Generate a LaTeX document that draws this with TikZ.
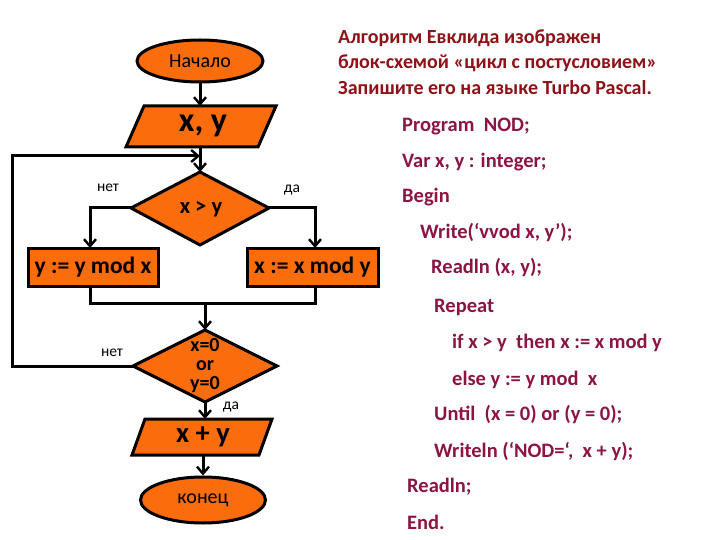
\documentclass[tikz,border=0pt]{standalone}
\usepackage{fontspec}
\setmainfont{Carlito}
\usetikzlibrary{arrows.meta,shapes.geometric}
\definecolor{orng}{RGB}{250,108,12}
\definecolor{ttl}{RGB}{140,18,24}
\definecolor{code}{RGB}{140,20,68}
\tikzset{
  blk/.style={draw=black,fill=orng,line width=3pt,line join=miter},
  ln/.style={draw=black,line width=3pt},
  arr/.style={ln,-{Straight Barb[length=7pt,width=12pt,line width=2.4pt]}},
  lbl/.style={font=\fontsize{15.5}{17}\selectfont,inner sep=0pt},
  ttltxt/.style={anchor=west,inner sep=0pt,text=ttl,font=\bfseries\fontsize{20}{22}\selectfont},
  codetxt/.style={anchor=west,inner sep=0pt,text=code,font=\bfseries\fontsize{20.5}{22}\selectfont},
}
\begin{document}
\begin{tikzpicture}[x=1pt,y=-1pt]
\useasboundingbox (0,0) rectangle (720,540);
% --- start
\node[blk,ellipse,minimum width=126pt,minimum height=42pt,inner sep=0pt,font=\fontsize{20}{22}\selectfont] (start) at (200,61) {Начало};
% --- input
\coordinate (p1tl) at (144,106); \coordinate (p1tr) at (276,106);
\coordinate (p1br) at (258,147); \coordinate (p1bl) at (126,147);
\draw[blk] (p1tl) -- (p1tr) -- (p1br) -- (p1bl) -- cycle;
\node[inner sep=0pt,font=\bfseries\fontsize{34}{36}\selectfont] (in1) at (203,126) {x, y};
\coordinate (in1t) at (200,106); \coordinate (in1b) at (200,147);
% --- diamond 1
\coordinate (d1t) at (200,172); \coordinate (d1r) at (269,208);
\coordinate (d1b) at (200,245); \coordinate (d1l) at (131,208);
\draw[blk] (d1t) -- (d1r) -- (d1b) -- (d1l) -- cycle;
\node[inner sep=0pt,font=\bfseries\fontsize{22.5}{24}\selectfont] (c1) at (201,209) {x > y};
% --- boxes
\node[blk,rectangle,minimum width=130pt,minimum height=38pt,inner sep=0pt,font=\bfseries\fontsize{23.5}{25}\selectfont] (bl) at (93,267) {y := y mod x};
\node[blk,rectangle,minimum width=131pt,minimum height=38pt,inner sep=0pt,font=\bfseries\fontsize{23.5}{25}\selectfont] (br) at (312.5,267) {x := x mod y};
\coordinate (blt) at (90,248); \coordinate (brt) at (315,248);
\coordinate (blb) at (90,286); \coordinate (brb) at (315,286);
\coordinate (mgl) at (90,303); \coordinate (mgr) at (315,303);
\coordinate (mgc) at (205,303);
% --- diamond 2
\coordinate (d2t) at (205,330); \coordinate (d2r) at (277,366);
\coordinate (d2b) at (205,402); \coordinate (d2l) at (133,366);
\draw[blk] (d2t) -- (d2r) -- (d2b) -- (d2l) -- cycle;
\node[inner sep=0pt,align=center,font=\bfseries\fontsize{20}{19}\selectfont] (c2) at (205,366) {x=0\\or\\y=0};
% --- output
\coordinate (p2tl) at (145,419); \coordinate (p2tr) at (272,419);
\coordinate (p2br) at (259,455); \coordinate (p2bl) at (132,455);
\draw[blk] (p2tl) -- (p2tr) -- (p2br) -- (p2bl) -- cycle;
\node[inner sep=0pt,font=\bfseries\fontsize{28.5}{30}\selectfont] (out) at (203,437) {x + y};
\coordinate (p2t) at (205,419); \coordinate (p2b) at (203,455);
% --- end
\node[blk,ellipse,minimum width=125pt,minimum height=46pt,inner sep=0pt,font=\fontsize{20}{22}\selectfont] (fin) at (203,500) {конец};
% --- connectors
\draw[arr] (start.south) -- (in1t);
\draw[arr] (in1b) -- (d1t);
\draw[arr] (d1l) -| (blt);
\draw[arr] (d1r) -| (brt);
\draw[ln] (blb) -- (mgl) -- (mgr) -- (brb);
\draw[arr] (mgc) -- (d2t);
\coordinate (lpa) at (12,366); \coordinate (lpb) at (12,156); \coordinate (lpc) at (200,156);
\draw[arr] (d2l) -- (lpa) -- (lpb) -- (lpc);
\draw[arr] (d2b) -- (p2t);
\draw[arr] (p2b) -- (fin.north);
% --- labels
\node[lbl] (l1) at (108,188) {нет};
\node[lbl] (l2) at (292,190) {да};
\node[lbl] (l3) at (112,353) {нет};
\node[lbl] (l4) at (231,407) {да};
% --- title
\node[ttltxt] (t1) at (338,38) {Алгоритм Евклида изображен};
\node[ttltxt] (t2) at (338,63) {блок-схемой «цикл с постусловием»};
\node[ttltxt] (t3) at (338,88) {Запишите его на языке Turbo Pascal.};
% --- code
\node[codetxt] (k1) at (402,127) {Program\ \ NOD;};
\node[codetxt] (k2) at (402,162) {Var x, y : integer;};
\node[codetxt] (k3) at (402,197) {Begin};
\node[codetxt] (k4) at (420,233) {Write(‘vvod x, y’);};
\node[codetxt] (k5) at (431,268) {Readln (x, y);};
\node[codetxt] (k6) at (434,307) {Repeat};
\node[codetxt] (k7) at (452,343) {if x > y\ \ then x := x mod y};
\node[codetxt] (k8) at (452,380) {else y := y mod\ \ x};
\node[codetxt] (k9) at (434,415) {Until\ \ (x = 0) or (y = 0);};
\node[codetxt] (k10) at (434,452) {Writeln (‘NOD=‘,\ \ x + y);};
\node[codetxt] (k11) at (407,487) {Readln;};
\node[codetxt] (k12) at (407,522) {End.};
\end{tikzpicture}
\end{document}
